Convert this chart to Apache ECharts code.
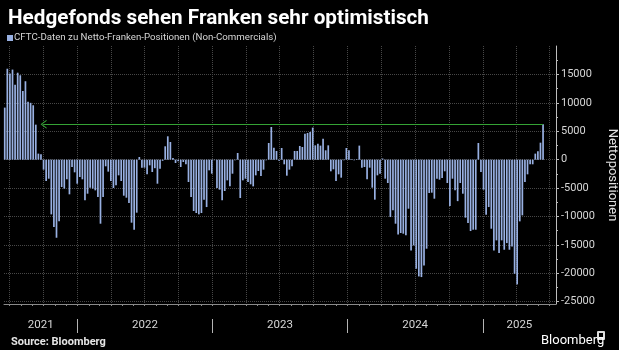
<!DOCTYPE html>
<html>
<head>
<meta charset="utf-8">
<script src="https://cdn.jsdelivr.net/npm/echarts@6/dist/echarts.min.js"></script>
<style>
  html, body { margin: 0; padding: 0; background: #000; }
  #chf_positions { width: 619px; height: 350px; }
</style>
</head>
<body>
<div id="chf_positions"></div>
<script>
// Data
// ------------------------------

// first CFTC report shown (Friday release), one bar per week
var firstWeek = Date.UTC(2021, 5, 18);
var DAY = 864e5;

// net CHF positions of non-commercials (contracts)
var netPositions = [
  9160, 16000, 15150, 15850, 13200, 15300, 14850, 12100, 13800, 10200,
  10000, 9570, 6160, 1060, 940, -1760, -3760, -3350, -9630, -11860,
  -13740, -10860, -4810, -5100, -3460, -6100, -1290, -2230, -4230, -3050,
  -3460, -7160, -5990, -4930, -5100, -5400, -6570, -11270, -6570, -1170,
  -2110, -3760, -4990, -4520, -2760, -3760, -6340, -6690, -7630, -11090,
  -12330, -9330, 470, -1410, -1410, -2580, -1000, -2170, -1500, -4230,
  -1580, -200, 2350, 4110, 3110, 300, -590, -290, -1290, -410,
  -820, -3930, -6570, -9040, -9390, -9630, -9390, -7040, -8340, -1880,
  -2470, -100, -4990, -5280, -7160, -5520, -3640, -4700, -2470, -100,
  1170, -6750, -3640, -3350, -3930, -4340, -4700, -2760, -2000, -2880,
  -1760, -100, 2930, 5750, 2110, 1530, -200, 2050, -820, -2820,
  -1760, -1170, 1530, 1530, 2410, 2230, 4580, 4700, 4870, 5640,
  2520, 2820, 2470, 3700, 1640, 2520, -2050, -1700, -3760, -2580,
  -3170, -100, 2050, 1640, 100, -100, 100, 2470, -1410, -1290,
  -3460, -1410, -4930, -7040, -2760, -2470, 200, -3350, -4110, -10100,
  -8920, -11270, -13150, -12910, -13030, -13320, -8630, -15970, -15090, -19200,
  -20550, -20660, -18610, -15670, -5870, -5810, -6870, -3350, -3520, -3230,
  -2050, -4110, -8160, -3350, -5400, -7300, -4110, -5990, -10210, -11150,
  -12560, -12330, -12330, 2930, -2170, -5280, -9690, -8340, -12150, -15970,
  -14200, -16440, -14200, -15850, -14680, -15850, -15260, -20080, -21950, -10860,
  -9800, -3930, -2580, -820, -820, 1060, 1470, 2990, 6220
];

// the arrow points back to this week (same level as today)
var arrowWeekIndex = 15;

// axis ranges and ticks
var xStart = Date.UTC(2021, 5, 16);
var xEnd = Date.UTC(2025, 6, 18);
var years = [2021, 2022, 2023, 2024, 2025];
var yTicks = [-25000, -20000, -15000, -10000, -5000, 0, 5000, 10000, 15000];
var yMinorTicks = [-22500, -17500, -12500, -7500, -2500, 2500, 7500, 12500, 17500];
var yMin = -25400;
var yMax = 20000;

// Setup module
// ------------------------------

var chfPositions = (function () {

  var chfPositionsChart = function () {
    if (typeof echarts == "undefined") {
      console.warn("Warning - echarts.min.js is not loaded.");
      return;
    }

    var chf_element = document.getElementById("chf_positions");
    if (!chf_element) return;

    // bars as [date, value]
    var barData = netPositions.map(function (v, i) {
      return [firstWeek + i * 7 * DAY, v];
    });
    var lastWeek = barData[barData.length - 1][0];
    var lastValue = netPositions[netPositions.length - 1];

    // month / quarter / year marks on the time line
    var monthTicks = [], quarterTicks = [], yearStarts = [], yearMids = [];
    years.forEach(function (y) {
      for (var m = 0; m < 12; m++) {
        var t = Date.UTC(y, m, 1);
        if (t < xStart || t > xEnd) continue;
        monthTicks.push(t);
        if (m % 3 === 0) quarterTicks.push(t);
      }
      var y0 = Date.UTC(y, 0, 1), y1 = Date.UTC(y + 1, 0, 1);
      if (y0 > xStart) yearStarts.push(y0);
      yearMids.push((Math.max(y0, xStart) + Math.min(y1, xEnd)) / 2);
    });

    var gridLine = { color: "#474747", type: "dotted", width: 1 };
    var labelFont = "Roboto, 'Liberation Sans', sans-serif";

    var chf_chart = echarts.init(chf_element, null, { renderer: "canvas" });

    chf_chart.setOption({
      backgroundColor: "#000",
      animation: false,
      textStyle: { fontFamily: labelFont },

      title: [
        {
          text: "Hedgefonds sehen Franken sehr optimistisch",
          left: 3,
          top: 3,
          textStyle: { color: "#fff", fontSize: 20.7, fontWeight: "bold", fontFamily: labelFont }
        },
        {
          text: "Source: Bloomberg",
          left: 6,
          top: 332,
          textStyle: { color: "#e6e6e6", fontSize: 11, fontWeight: "bold", fontFamily: labelFont }
        },
        {
          text: "Bloomberg",
          left: 536,
          top: 329,
          textStyle: { color: "#fff", fontSize: 13, fontWeight: "normal", fontFamily: labelFont }
        }
      ],

      // small logo mark next to "Bloomberg"
      graphic: [
        { type: "rect", shape: { x: 597, y: 331, width: 8, height: 9, r: 1 }, style: { fill: "#ddd" } },
        { type: "rect", shape: { x: 599, y: 333, width: 4, height: 4 }, style: { fill: "#000" } }
      ],

      legend: {
        left: 7,
        top: 33,
        padding: 0,
        icon: "rect",
        itemWidth: 6,
        itemHeight: 6,
        data: ["CFTC-Daten zu Netto-Franken-Positionen (Non-Commercials)"],
        textStyle: { color: "#d6d6d6", fontSize: 9.7, padding: [0, 0, 0, -4] }
      },

      grid: { left: 4, right: 63, top: 46, bottom: 46, containLabel: false, outerBoundsMode: "none" },

      xAxis: [
        {
          // main time line: monthly ticks + year labels
          type: "value",
          min: xStart,
          max: xEnd,
          axisLine: { show: true, onZero: false, lineStyle: { color: "#8a8a8a" } },
          axisTick: { show: true, length: 2, customValues: monthTicks, lineStyle: { color: "#8a8a8a" } },
          splitLine: { show: false },
          axisLabel: {
            customValues: yearMids,
            margin: 15,
            color: "#d6d6d6",
            fontSize: 11.5,
            formatter: function (v) { return String(new Date(v).getUTCFullYear()); }
          }
        },
        {
          // quarterly vertical grid
          type: "value",
          min: xStart,
          max: xEnd,
          axisLine: { show: false },
          axisTick: { show: false, customValues: quarterTicks },
          axisLabel: { show: false },
          splitLine: { show: true, lineStyle: gridLine }
        },
        {
          // year separators under the axis
          type: "value",
          min: xStart,
          max: xEnd,
          position: "bottom",
          offset: 15,
          axisLine: { show: false, onZero: false },
          axisTick: { show: true, inside: false, length: 14, customValues: yearStarts, lineStyle: { color: "#b4b4b4", width: 1 } },
          axisLabel: { show: false },
          splitLine: { show: false }
        }
      ],

      yAxis: [
        {
          type: "value",
          position: "right",
          min: yMin,
          max: yMax,
          name: "Nettopositionen",
          nameLocation: "middle",
          nameRotate: -90,
          nameGap: 40,
          nameTextStyle: { color: "#e0e0e0", fontSize: 13 },
          axisLine: { show: true, lineStyle: { color: "#bdbdbd" } },
          axisTick: { show: true, length: 3, customValues: yTicks, lineStyle: { color: "#bdbdbd" } },
          axisLabel: {
            customValues: yTicks,
            margin: 5,
            color: "#d6d6d6",
            fontSize: 11,
            formatter: function (v) { return String(v); }
          },
          splitLine: { show: true, lineStyle: gridLine }
        },
        {
          // minor ticks
          type: "value",
          position: "right",
          min: yMin,
          max: yMax,
          axisLine: { show: false },
          axisTick: { show: true, length: 2, customValues: yMinorTicks, lineStyle: { color: "#bdbdbd" } },
          axisLabel: { show: false },
          splitLine: { show: false }
        }
      ],

      series: [
        {
          name: "CFTC-Daten zu Netto-Franken-Positionen (Non-Commercials)",
          type: "bar",
          xAxisIndex: 0,
          yAxisIndex: 0,
          barWidth: 1.7,
          itemStyle: { color: "#98b0e2" },
          emphasis: { disabled: true },
          data: barData,
          markLine: {
            silent: true,
            label: { show: false },
            lineStyle: { color: "#35a335", width: 1, type: "solid" },
            emphasis: { disabled: true },
            data: [
              [
                {
                  coord: [firstWeek + arrowWeekIndex * 7 * DAY, lastValue],
                  symbol: "path://M0,10 L5,0 L10,10 L8.6,10 L5,2.6 L1.4,10 Z",
                  symbolSize: [9, 6]
                },
                { coord: [lastWeek, lastValue], symbol: "none" }
              ]
            ]
          }
        }
      ]
    });
  };

  return {
    init: function () {
      chfPositionsChart();
    }
  };
})();

// Initialize module
// ------------------------------

document.addEventListener("DOMContentLoaded", function () {
  chfPositions.init();
});
</script>
</body>
</html>
